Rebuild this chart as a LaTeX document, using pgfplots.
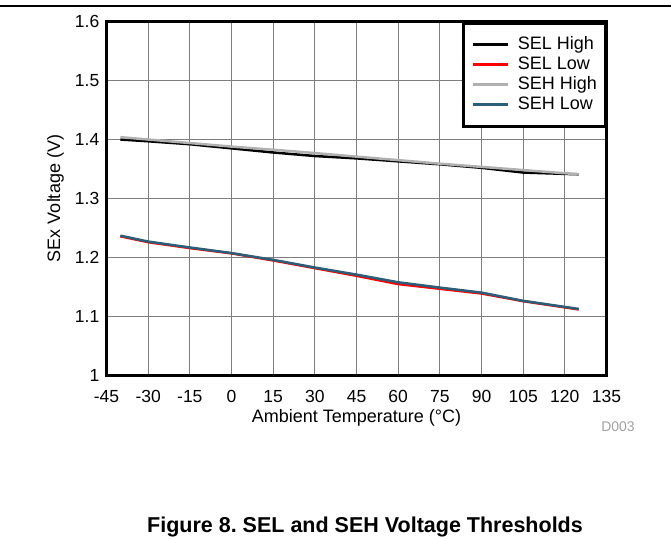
\documentclass[border=0pt]{standalone}
\usepackage{fontspec}
\setmainfont{Liberation Sans}
\usepackage{pgfplots}
\pgfplotsset{compat=1.18}
\definecolor{selhigh}{RGB}{0,0,0}
\definecolor{sellow}{RGB}{255,0,0}
\definecolor{sehhigh}{RGB}{176,176,176}
\definecolor{sehlow}{RGB}{44,94,120}
\definecolor{gridgray}{RGB}{125,125,125}
\definecolor{tagray}{RGB}{160,160,160}
\frenchspacing

\begin{document}
\begin{tikzpicture}
\useasboundingbox (-106.5pt,-163.5pt) rectangle (564.5pt,375.5pt);
\draw[line width=1.8pt] (-106.5pt,369.5pt) -- (564.5pt,369.5pt);
\begin{axis}[
    at={(0pt,0pt)}, anchor=south west,
    scale only axis,
    width=500pt, height=354pt,
    xmin=-45, xmax=135, ymin=1, ymax=1.6,
    xtick={-45,-30,...,135},
    ytick={1,1.1,...,1.6},
    major tick length=0pt,
    grid=major,
    grid style={gridgray, line width=1.1pt},
    axis line style={line width=3pt},
    /pgf/number format/assume math mode=true,
    yticklabel style={/pgf/number format/fixed, /pgf/number format/precision=1},
    tick label style={font=\fontsize{17.5}{20}\selectfont},
    xticklabel style={anchor=center, yshift=-21.2pt},
    yticklabel style={inner sep=0pt, xshift=-7pt},
    label style={font=\fontsize{18}{21}\selectfont},
    xlabel={Ambient Temperature (°C)},
    ylabel={SEx Voltage (V)},
    xlabel style={at={(axis description cs:0.5,0)}, anchor=center, yshift=-42.5pt},
    ylabel style={at={(axis description cs:0,0.5)}, anchor=center, yshift=51pt},
    legend style={at={(1,1)}, anchor=north east, draw=black, line width=3pt,
        font=\fontsize{18}{20}\selectfont, inner xsep=8pt, inner ysep=13pt,
        row sep=3pt, column sep=9pt, cells={anchor=west},
        nodes={inner sep=0pt, text height=13pt, text depth=4pt}},
    legend image code/.code={\draw[#1] (0pt,0pt) -- (35pt,0pt);},
    legend cell align=left,
]
\addplot[selhigh, line width=2.5pt] coordinates {
(-40,1.400) (-30,1.397) (-15,1.392) (0,1.385) (15,1.378) (30,1.372)
(45,1.368) (60,1.363) (75,1.358) (90,1.352) (105,1.344) (125,1.341)};
\addplot[sellow, line width=2.5pt] coordinates {
(-40,1.236) (-30,1.226) (-15,1.216) (0,1.207) (15,1.195) (30,1.182)
(45,1.169) (60,1.155) (75,1.147) (90,1.139) (105,1.126) (125,1.112)};
\addplot[sehhigh, line width=2.5pt] coordinates {
(-40,1.404) (-25,1.398) (0,1.388) (25,1.379) (50,1.369) (75,1.359)
(100,1.350) (125,1.341)};
\addplot[sehlow, line width=2.5pt] coordinates {
(-40,1.237) (-30,1.227) (-15,1.217) (0,1.2075) (15,1.196) (30,1.183)
(45,1.171) (60,1.158) (75,1.149) (90,1.1405) (105,1.1265) (125,1.1128)};
\legend{SEL High, SEL Low, SEH High, SEH Low}
\end{axis}
\node[text=tagray, font=\fontsize{14}{16}\selectfont] at (511.5pt,-51.5pt) {D003};
\node[font=\fontsize{21.5}{24}\selectfont\bfseries] at (258.5pt,-151.5pt) {Figure 8. SEL and SEH Voltage Thresholds};
\end{tikzpicture}
\end{document}
